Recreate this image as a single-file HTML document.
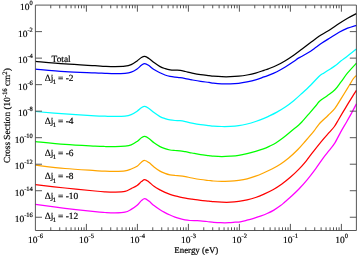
<!DOCTYPE html>
<html><head><meta charset="utf-8"><title>Cross Section</title>
<style>html,body{margin:0;padding:0;background:#fff;overflow:hidden}svg{display:block}</style></head>
<body>
<svg width="357" height="255" viewBox="0 0 357 255">
<rect width="357" height="255" fill="#fff"/>
<g fill="none" stroke-width="1.25" stroke-linejoin="round" stroke-linecap="butt">
<path stroke="#000000" d="M35.40 61.40 C40.33 61.82 55.07 63.18 65.00 63.90 C74.93 64.62 88.33 65.30 95.00 65.70 C101.67 66.10 101.67 66.15 105.00 66.30 C108.33 66.45 111.67 66.62 115.00 66.60 C118.33 66.58 122.30 66.53 125.00 66.20 C127.70 65.87 129.18 65.48 131.20 64.60 C133.22 63.72 135.40 62.08 137.10 60.90 C138.80 59.72 140.12 58.25 141.40 57.50 C142.68 56.75 143.55 56.23 144.80 56.40 C146.05 56.57 147.37 57.48 148.90 58.50 C150.43 59.52 152.13 61.15 154.00 62.50 C155.87 63.85 158.23 65.58 160.10 66.60 C161.97 67.62 163.52 68.07 165.20 68.60 C166.88 69.13 168.52 69.53 170.20 69.80 C171.88 70.07 173.62 70.10 175.30 70.20 C176.98 70.30 178.62 70.18 180.30 70.40 C181.98 70.62 183.43 71.05 185.40 71.50 C187.37 71.95 189.57 72.57 192.10 73.10 C194.63 73.63 197.78 74.27 200.60 74.70 C203.42 75.13 206.87 75.45 209.00 75.70 C211.13 75.95 211.25 76.03 213.40 76.20 C215.55 76.37 219.08 76.62 221.90 76.70 C224.72 76.78 227.50 76.78 230.30 76.70 C233.10 76.62 235.90 76.48 238.70 76.20 C241.50 75.92 244.28 75.52 247.10 75.00 C249.92 74.48 252.78 73.88 255.60 73.10 C258.42 72.32 261.87 71.02 264.00 70.30 C266.13 69.58 266.25 69.63 268.40 68.80 C270.55 67.97 274.08 66.65 276.90 65.30 C279.72 63.95 282.50 62.38 285.30 60.70 C288.10 59.02 290.90 57.17 293.70 55.20 C296.50 53.23 299.28 51.02 302.10 48.90 C304.92 46.78 307.78 44.60 310.60 42.50 C313.42 40.40 316.48 38.00 319.00 36.30 C321.52 34.60 323.75 33.47 325.70 32.30 C327.65 31.13 328.47 30.75 330.70 29.30 C332.93 27.85 336.28 25.43 339.10 23.60 C341.92 21.77 344.72 19.97 347.60 18.30 C350.48 16.63 354.93 14.38 356.40 13.60"/>
<path stroke="#0000ff" d="M35.40 69.10 C40.33 69.52 55.07 70.98 65.00 71.60 C74.93 72.22 88.33 72.52 95.00 72.80 C101.67 73.08 101.67 73.17 105.00 73.30 C108.33 73.43 111.67 73.60 115.00 73.60 C118.33 73.60 122.30 73.53 125.00 73.30 C127.70 73.07 129.18 72.92 131.20 72.20 C133.22 71.48 135.40 70.15 137.10 69.00 C138.80 67.85 140.12 66.20 141.40 65.30 C142.68 64.40 143.55 63.55 144.80 63.60 C146.05 63.65 147.37 64.60 148.90 65.60 C150.43 66.60 152.15 68.40 154.00 69.60 C155.85 70.80 158.17 71.90 160.00 72.80 C161.83 73.70 163.33 74.40 165.00 75.00 C166.67 75.60 168.33 76.03 170.00 76.40 C171.67 76.77 173.33 76.98 175.00 77.20 C176.67 77.42 178.27 77.47 180.00 77.70 C181.73 77.93 183.40 78.23 185.40 78.60 C187.40 78.97 189.47 79.43 192.00 79.90 C194.53 80.37 197.77 80.98 200.60 81.40 C203.43 81.82 206.87 82.10 209.00 82.40 C211.13 82.70 211.25 82.95 213.40 83.20 C215.55 83.45 219.08 83.78 221.90 83.90 C224.72 84.02 227.50 84.00 230.30 83.90 C233.10 83.80 235.90 83.63 238.70 83.30 C241.50 82.97 244.28 82.47 247.10 81.90 C249.92 81.33 252.78 80.73 255.60 79.90 C258.42 79.07 261.87 77.65 264.00 76.90 C266.13 76.15 266.25 76.27 268.40 75.40 C270.55 74.53 274.08 73.10 276.90 71.70 C279.72 70.30 282.50 68.68 285.30 67.00 C288.10 65.32 291.58 63.03 293.70 61.60 C295.82 60.17 296.60 59.30 298.00 58.40 C299.40 57.50 300.00 57.40 302.10 56.20 C304.20 55.00 308.22 52.73 310.60 51.20 C312.98 49.67 314.45 48.40 316.40 47.00 C318.35 45.60 319.92 44.38 322.30 42.80 C324.68 41.22 327.90 39.27 330.70 37.50 C333.50 35.73 336.28 33.75 339.10 32.20 C341.92 30.65 344.72 29.35 347.60 28.20 C350.48 27.05 354.93 25.78 356.40 25.30"/>
<path stroke="#00ffff" d="M35.40 111.50 C40.33 111.90 55.07 113.17 65.00 113.90 C74.93 114.63 88.33 115.52 95.00 115.90 C101.67 116.28 101.67 116.12 105.00 116.20 C108.33 116.28 111.67 116.42 115.00 116.40 C118.33 116.38 122.30 116.40 125.00 116.10 C127.70 115.80 129.18 115.42 131.20 114.60 C133.22 113.78 135.40 112.35 137.10 111.20 C138.80 110.05 140.12 108.50 141.40 107.70 C142.68 106.90 143.55 106.27 144.80 106.40 C146.05 106.53 147.37 107.47 148.90 108.50 C150.43 109.53 152.15 111.25 154.00 112.60 C155.85 113.95 158.17 115.60 160.00 116.60 C161.83 117.60 163.33 118.05 165.00 118.60 C166.67 119.15 168.33 119.58 170.00 119.90 C171.67 120.22 173.33 120.37 175.00 120.50 C176.67 120.63 178.27 120.52 180.00 120.70 C181.73 120.88 183.40 121.20 185.40 121.60 C187.40 122.00 189.47 122.58 192.00 123.10 C194.53 123.62 197.77 124.27 200.60 124.70 C203.43 125.13 206.87 125.45 209.00 125.70 C211.13 125.95 211.25 126.07 213.40 126.20 C215.55 126.33 219.08 126.47 221.90 126.50 C224.72 126.53 227.50 126.53 230.30 126.40 C233.10 126.27 235.90 126.10 238.70 125.70 C241.50 125.30 244.28 124.70 247.10 124.00 C249.92 123.30 252.78 122.43 255.60 121.50 C258.42 120.57 261.87 119.25 264.00 118.40 C266.13 117.55 266.25 117.45 268.40 116.40 C270.55 115.35 274.08 113.67 276.90 112.10 C279.72 110.53 282.50 108.90 285.30 107.00 C288.10 105.10 290.90 103.00 293.70 100.70 C296.50 98.40 299.28 95.78 302.10 93.20 C304.92 90.62 307.80 87.98 310.60 85.20 C313.40 82.42 316.67 78.55 318.90 76.50 C321.13 74.45 322.03 74.20 324.00 72.90 C325.97 71.60 328.73 69.97 330.70 68.70 C332.67 67.43 334.12 66.57 335.80 65.30 C337.48 64.03 338.83 62.65 340.80 61.10 C342.77 59.55 345.00 58.02 347.60 56.00 C350.20 53.98 354.93 50.17 356.40 49.00"/>
<path stroke="#00ff00" d="M35.40 141.60 C40.33 142.07 55.07 143.65 65.00 144.40 C74.93 145.15 88.33 145.75 95.00 146.10 C101.67 146.45 101.67 146.42 105.00 146.50 C108.33 146.58 111.67 146.67 115.00 146.60 C118.33 146.53 122.30 146.38 125.00 146.10 C127.70 145.82 129.18 145.68 131.20 144.90 C133.22 144.12 135.40 142.58 137.10 141.40 C138.80 140.22 140.12 138.63 141.40 137.80 C142.68 136.97 143.55 136.28 144.80 136.40 C146.05 136.52 147.37 137.43 148.90 138.50 C150.43 139.57 152.15 141.45 154.00 142.80 C155.85 144.15 158.17 145.62 160.00 146.60 C161.83 147.58 163.33 148.13 165.00 148.70 C166.67 149.27 168.33 149.70 170.00 150.00 C171.67 150.30 173.33 150.37 175.00 150.50 C176.67 150.63 178.27 150.60 180.00 150.80 C181.73 151.00 183.40 151.33 185.40 151.70 C187.40 152.07 189.47 152.52 192.00 153.00 C194.53 153.48 197.77 154.17 200.60 154.60 C203.43 155.03 206.87 155.33 209.00 155.60 C211.13 155.87 211.25 156.03 213.40 156.20 C215.55 156.37 219.08 156.60 221.90 156.60 C224.72 156.60 227.50 156.40 230.30 156.20 C233.10 156.00 235.90 155.82 238.70 155.40 C241.50 154.98 244.28 154.37 247.10 153.70 C249.92 153.03 252.88 152.20 255.60 151.40 C258.32 150.60 261.00 149.80 263.40 148.90 C265.80 148.00 267.93 146.98 270.00 146.00 C272.07 145.02 273.55 144.40 275.80 143.00 C278.05 141.60 280.80 139.68 283.50 137.60 C286.20 135.52 289.65 132.43 292.00 130.50 C294.35 128.57 295.97 127.42 297.60 126.00 C299.23 124.58 299.73 124.23 301.80 122.00 C303.87 119.77 307.55 115.43 310.00 112.60 C312.45 109.77 314.87 106.93 316.50 105.00 C318.13 103.07 318.00 102.55 319.80 101.00 C321.60 99.45 324.78 97.57 327.30 95.70 C329.82 93.83 332.65 92.05 334.90 89.80 C337.15 87.55 338.68 85.02 340.80 82.20 C342.92 79.38 345.00 76.07 347.60 72.90 C350.20 69.73 354.93 64.82 356.40 63.20"/>
<path stroke="#ffa500" d="M35.40 165.20 C40.33 165.75 55.07 167.60 65.00 168.50 C74.93 169.40 88.33 170.15 95.00 170.60 C101.67 171.05 101.67 171.07 105.00 171.20 C108.33 171.33 111.67 171.45 115.00 171.40 C118.33 171.35 122.30 171.30 125.00 170.90 C127.70 170.50 129.18 169.78 131.20 169.00 C133.22 168.22 135.40 167.33 137.10 166.20 C138.80 165.07 140.12 163.15 141.40 162.20 C142.68 161.25 143.55 160.43 144.80 160.50 C146.05 160.57 147.37 161.53 148.90 162.60 C150.43 163.67 152.15 165.48 154.00 166.90 C155.85 168.32 158.17 170.03 160.00 171.10 C161.83 172.17 163.33 172.68 165.00 173.30 C166.67 173.92 168.33 174.43 170.00 174.80 C171.67 175.17 173.33 175.33 175.00 175.50 C176.67 175.67 178.27 175.62 180.00 175.80 C181.73 175.98 183.40 176.23 185.40 176.60 C187.40 176.97 189.47 177.52 192.00 178.00 C194.53 178.48 197.77 179.08 200.60 179.50 C203.43 179.92 206.87 180.25 209.00 180.50 C211.13 180.75 211.25 180.87 213.40 181.00 C215.55 181.13 219.08 181.27 221.90 181.30 C224.72 181.33 227.50 181.37 230.30 181.20 C233.10 181.03 235.90 180.70 238.70 180.30 C241.50 179.90 244.28 179.48 247.10 178.80 C249.92 178.12 252.88 177.17 255.60 176.20 C258.32 175.23 260.68 174.20 263.40 173.00 C266.12 171.80 269.08 170.47 271.90 169.00 C274.72 167.53 277.50 166.03 280.30 164.20 C283.10 162.37 285.90 160.32 288.70 158.00 C291.50 155.68 294.30 153.13 297.10 150.30 C299.90 147.47 302.70 144.18 305.50 141.00 C308.30 137.82 311.67 133.98 313.90 131.20 C316.13 128.42 316.52 126.95 318.90 124.30 C321.28 121.65 325.53 117.97 328.20 115.30 C330.87 112.63 332.80 111.00 334.90 108.30 C337.00 105.60 338.68 102.47 340.80 99.10 C342.92 95.73 345.48 91.53 347.60 88.10 C349.72 84.67 352.03 80.60 353.50 78.50 C354.97 76.40 355.92 76.00 356.40 75.50"/>
<path stroke="#ff0000" d="M35.40 184.60 C40.33 185.17 55.07 186.93 65.00 188.00 C74.93 189.07 88.33 190.37 95.00 191.00 C101.67 191.63 101.67 191.62 105.00 191.80 C108.33 191.98 111.67 192.17 115.00 192.10 C118.33 192.03 122.30 191.98 125.00 191.40 C127.70 190.82 129.18 189.58 131.20 188.60 C133.22 187.62 135.40 186.67 137.10 185.50 C138.80 184.33 140.12 182.58 141.40 181.60 C142.68 180.62 143.55 179.53 144.80 179.60 C146.05 179.67 147.37 180.88 148.90 182.00 C150.43 183.12 152.15 184.98 154.00 186.30 C155.85 187.62 158.17 188.88 160.00 189.90 C161.83 190.92 163.33 191.65 165.00 192.40 C166.67 193.15 168.33 193.82 170.00 194.40 C171.67 194.98 173.33 195.45 175.00 195.90 C176.67 196.35 178.27 196.73 180.00 197.10 C181.73 197.47 183.40 197.77 185.40 198.10 C187.40 198.43 189.47 198.73 192.00 199.10 C194.53 199.47 197.77 199.97 200.60 200.30 C203.43 200.63 206.87 200.87 209.00 201.10 C211.13 201.33 211.25 201.52 213.40 201.70 C215.55 201.88 219.08 202.12 221.90 202.20 C224.72 202.28 227.50 202.33 230.30 202.20 C233.10 202.07 235.90 201.78 238.70 201.40 C241.50 201.02 244.28 200.55 247.10 199.90 C249.92 199.25 252.78 198.47 255.60 197.50 C258.42 196.53 261.03 195.43 264.00 194.10 C266.97 192.77 270.42 191.18 273.40 189.50 C276.38 187.82 279.08 186.03 281.90 184.00 C284.72 181.97 287.50 179.73 290.30 177.30 C293.10 174.87 296.03 172.15 298.70 169.40 C301.37 166.65 303.77 163.90 306.30 160.80 C308.83 157.70 311.23 154.22 313.90 150.80 C316.57 147.38 319.78 143.32 322.30 140.30 C324.82 137.28 326.98 135.00 329.00 132.70 C331.02 130.40 332.85 128.62 334.40 126.50 C335.95 124.38 336.95 122.27 338.30 120.00 C339.65 117.73 340.95 115.50 342.50 112.90 C344.05 110.30 345.92 107.17 347.60 104.40 C349.28 101.63 351.13 98.65 352.60 96.30 C354.07 93.95 355.77 91.30 356.40 90.30"/>
<path stroke="#ff00ff" d="M35.40 204.40 C40.33 205.05 55.07 207.08 65.00 208.30 C74.93 209.52 88.33 211.00 95.00 211.70 C101.67 212.40 101.67 212.30 105.00 212.50 C108.33 212.70 111.67 212.95 115.00 212.90 C118.33 212.85 122.30 212.78 125.00 212.20 C127.70 211.62 129.18 210.55 131.20 209.40 C133.22 208.25 135.40 206.77 137.10 205.30 C138.80 203.83 140.12 201.72 141.40 200.60 C142.68 199.48 143.55 198.52 144.80 198.60 C146.05 198.68 147.37 199.93 148.90 201.10 C150.43 202.27 152.15 204.15 154.00 205.60 C155.85 207.05 158.17 208.63 160.00 209.80 C161.83 210.97 163.33 211.73 165.00 212.60 C166.67 213.47 168.33 214.25 170.00 215.00 C171.67 215.75 173.33 216.48 175.00 217.10 C176.67 217.72 178.33 218.23 180.00 218.70 C181.67 219.17 183.33 219.60 185.00 219.90 C186.67 220.20 188.28 220.37 190.00 220.50 C191.72 220.63 193.58 220.65 195.30 220.70 C197.02 220.75 198.35 220.67 200.30 220.80 C202.25 220.93 204.75 221.25 207.00 221.50 C209.25 221.75 211.53 222.10 213.80 222.30 C216.07 222.50 218.07 222.63 220.60 222.70 C223.13 222.77 226.58 222.78 229.00 222.70 C231.42 222.62 233.23 222.35 235.10 222.20 C236.97 222.05 238.23 222.13 240.20 221.80 C242.17 221.47 244.65 220.78 246.90 220.20 C249.15 219.62 251.45 218.98 253.70 218.30 C255.95 217.62 258.17 216.90 260.40 216.10 C262.63 215.30 264.85 214.50 267.10 213.50 C269.35 212.50 271.65 211.42 273.90 210.10 C276.15 208.78 278.82 206.92 280.60 205.60 C282.38 204.28 282.98 203.60 284.60 202.20 C286.22 200.80 287.95 199.37 290.30 197.20 C292.65 195.03 295.90 192.10 298.70 189.20 C301.50 186.30 304.28 183.20 307.10 179.80 C309.92 176.40 312.87 172.50 315.60 168.80 C318.33 165.10 321.27 160.62 323.50 157.60 C325.73 154.58 327.18 153.02 329.00 150.70 C330.82 148.38 332.43 146.83 334.40 143.70 C336.37 140.57 338.75 135.57 340.80 131.90 C342.85 128.23 344.87 124.92 346.70 121.70 C348.53 118.48 350.18 115.58 351.80 112.60 C353.42 109.62 355.63 105.27 356.40 103.80"/>
</g>
<path fill="none" stroke="#444" stroke-width="0.9" d="M35.40 5.10 H356.40 V230.50 H35.40 Z M50.75 230.50 v-3.20 M50.75 5.10 v3.20 M59.73 230.50 v-3.20 M59.73 5.10 v3.20 M66.11 230.50 v-3.20 M66.11 5.10 v3.20 M71.05 230.50 v-3.20 M71.05 5.10 v3.20 M75.09 230.50 v-3.20 M75.09 5.10 v3.20 M78.50 230.50 v-3.20 M78.50 5.10 v3.20 M81.46 230.50 v-3.20 M81.46 5.10 v3.20 M84.07 230.50 v-3.20 M84.07 5.10 v3.20 M86.40 230.50 v-6.60 M86.40 5.10 v6.60 M101.75 230.50 v-3.20 M101.75 5.10 v3.20 M110.73 230.50 v-3.20 M110.73 5.10 v3.20 M117.11 230.50 v-3.20 M117.11 5.10 v3.20 M122.05 230.50 v-3.20 M122.05 5.10 v3.20 M126.09 230.50 v-3.20 M126.09 5.10 v3.20 M129.50 230.50 v-3.20 M129.50 5.10 v3.20 M132.46 230.50 v-3.20 M132.46 5.10 v3.20 M135.07 230.50 v-3.20 M135.07 5.10 v3.20 M137.40 230.50 v-6.60 M137.40 5.10 v6.60 M152.75 230.50 v-3.20 M152.75 5.10 v3.20 M161.73 230.50 v-3.20 M161.73 5.10 v3.20 M168.11 230.50 v-3.20 M168.11 5.10 v3.20 M173.05 230.50 v-3.20 M173.05 5.10 v3.20 M177.09 230.50 v-3.20 M177.09 5.10 v3.20 M180.50 230.50 v-3.20 M180.50 5.10 v3.20 M183.46 230.50 v-3.20 M183.46 5.10 v3.20 M186.07 230.50 v-3.20 M186.07 5.10 v3.20 M188.40 230.50 v-6.60 M188.40 5.10 v6.60 M203.75 230.50 v-3.20 M203.75 5.10 v3.20 M212.73 230.50 v-3.20 M212.73 5.10 v3.20 M219.11 230.50 v-3.20 M219.11 5.10 v3.20 M224.05 230.50 v-3.20 M224.05 5.10 v3.20 M228.09 230.50 v-3.20 M228.09 5.10 v3.20 M231.50 230.50 v-3.20 M231.50 5.10 v3.20 M234.46 230.50 v-3.20 M234.46 5.10 v3.20 M237.07 230.50 v-3.20 M237.07 5.10 v3.20 M239.40 230.50 v-6.60 M239.40 5.10 v6.60 M254.75 230.50 v-3.20 M254.75 5.10 v3.20 M263.73 230.50 v-3.20 M263.73 5.10 v3.20 M270.11 230.50 v-3.20 M270.11 5.10 v3.20 M275.05 230.50 v-3.20 M275.05 5.10 v3.20 M279.09 230.50 v-3.20 M279.09 5.10 v3.20 M282.50 230.50 v-3.20 M282.50 5.10 v3.20 M285.46 230.50 v-3.20 M285.46 5.10 v3.20 M288.07 230.50 v-3.20 M288.07 5.10 v3.20 M290.40 230.50 v-6.60 M290.40 5.10 v6.60 M305.75 230.50 v-3.20 M305.75 5.10 v3.20 M314.73 230.50 v-3.20 M314.73 5.10 v3.20 M321.11 230.50 v-3.20 M321.11 5.10 v3.20 M326.05 230.50 v-3.20 M326.05 5.10 v3.20 M330.09 230.50 v-3.20 M330.09 5.10 v3.20 M333.50 230.50 v-3.20 M333.50 5.10 v3.20 M336.46 230.50 v-3.20 M336.46 5.10 v3.20 M339.07 230.50 v-3.20 M339.07 5.10 v3.20 M341.40 230.50 v-6.60 M341.40 5.10 v6.60 M35.40 31.62 h6.60 M356.40 31.62 h-6.60 M35.40 58.14 h6.60 M356.40 58.14 h-6.60 M35.40 84.65 h6.60 M356.40 84.65 h-6.60 M35.40 111.17 h6.60 M356.40 111.17 h-6.60 M35.40 137.69 h6.60 M356.40 137.69 h-6.60 M35.40 164.21 h6.60 M356.40 164.21 h-6.60 M35.40 190.72 h6.60 M356.40 190.72 h-6.60 M35.40 217.24 h6.60 M356.40 217.24 h-6.60"/>
<g font-family="'Liberation Serif', serif" fill="#000" stroke="#000" stroke-width="0.18" text-rendering="geometricPrecision">
<g font-size="9.5">
<text x="32.8" y="10.20" text-anchor="end">10<tspan font-size="6.5" dy="-5.1">0</tspan></text>
<text x="32.8" y="36.72" text-anchor="end">10<tspan font-size="6.5" dy="-5.1">-2</tspan></text>
<text x="32.8" y="63.24" text-anchor="end">10<tspan font-size="6.5" dy="-5.1">-4</tspan></text>
<text x="32.8" y="89.75" text-anchor="end">10<tspan font-size="6.5" dy="-5.1">-6</tspan></text>
<text x="32.8" y="116.27" text-anchor="end">10<tspan font-size="6.5" dy="-5.1">-8</tspan></text>
<text x="32.8" y="142.79" text-anchor="end">10<tspan font-size="6.5" dy="-5.1">-10</tspan></text>
<text x="32.8" y="169.31" text-anchor="end">10<tspan font-size="6.5" dy="-5.1">-12</tspan></text>
<text x="32.8" y="195.82" text-anchor="end">10<tspan font-size="6.5" dy="-5.1">-14</tspan></text>
<text x="32.8" y="222.34" text-anchor="end">10<tspan font-size="6.5" dy="-5.1">-16</tspan></text>
<text x="35.50" y="243.4" text-anchor="middle">10<tspan font-size="6.5" dy="-5.1">-6</tspan></text>
<text x="86.50" y="243.4" text-anchor="middle">10<tspan font-size="6.5" dy="-5.1">-5</tspan></text>
<text x="137.50" y="243.4" text-anchor="middle">10<tspan font-size="6.5" dy="-5.1">-4</tspan></text>
<text x="188.50" y="243.4" text-anchor="middle">10<tspan font-size="6.5" dy="-5.1">-3</tspan></text>
<text x="239.50" y="243.4" text-anchor="middle">10<tspan font-size="6.5" dy="-5.1">-2</tspan></text>
<text x="290.50" y="243.4" text-anchor="middle">10<tspan font-size="6.5" dy="-5.1">-1</tspan></text>
<text x="341.50" y="243.4" text-anchor="middle">10<tspan font-size="6.5" dy="-5.1">0</tspan></text>
</g>
<g font-size="8.9">
<text x="196.3" y="253.3" text-anchor="middle">Energy (eV)</text>
<text transform="translate(10.2 115.65) rotate(-90)" text-anchor="middle" font-size="9.25">Cross Section (10<tspan font-size="6.7" dy="-3.5">-16</tspan><tspan dy="3.5"> cm</tspan><tspan font-size="6.7" dy="-3.5">2</tspan><tspan dy="3.5">)</tspan></text>
</g>
<g font-size="9.4">
<text x="51.6" y="61.6">Total</text>
<text y="81.0"><tspan x="44.8">Δj</tspan><tspan x="52.7" font-size="6.6" dy="3.2">1</tspan><tspan x="58.1" dy="-3.2">=</tspan><tspan x="65.7">-2</tspan></text>
<text y="123.7"><tspan x="44.8">Δj</tspan><tspan x="52.7" font-size="6.6" dy="3.2">1</tspan><tspan x="58.1" dy="-3.2">=</tspan><tspan x="65.7">-4</tspan></text>
<text y="156.1"><tspan x="44.8">Δj</tspan><tspan x="52.7" font-size="6.6" dy="3.2">1</tspan><tspan x="58.1" dy="-3.2">=</tspan><tspan x="65.7">-6</tspan></text>
<text y="179.4"><tspan x="44.8">Δj</tspan><tspan x="52.7" font-size="6.6" dy="3.2">1</tspan><tspan x="58.1" dy="-3.2">=</tspan><tspan x="65.7">-8</tspan></text>
<text y="198.6"><tspan x="44.8">Δj</tspan><tspan x="52.7" font-size="6.6" dy="3.2">1</tspan><tspan x="58.1" dy="-3.2">=</tspan><tspan x="65.7">-10</tspan></text>
<text y="218.9"><tspan x="44.8">Δj</tspan><tspan x="52.7" font-size="6.6" dy="3.2">1</tspan><tspan x="58.1" dy="-3.2">=</tspan><tspan x="65.7">-12</tspan></text>
</g>
</g>
</svg>
</body></html>
